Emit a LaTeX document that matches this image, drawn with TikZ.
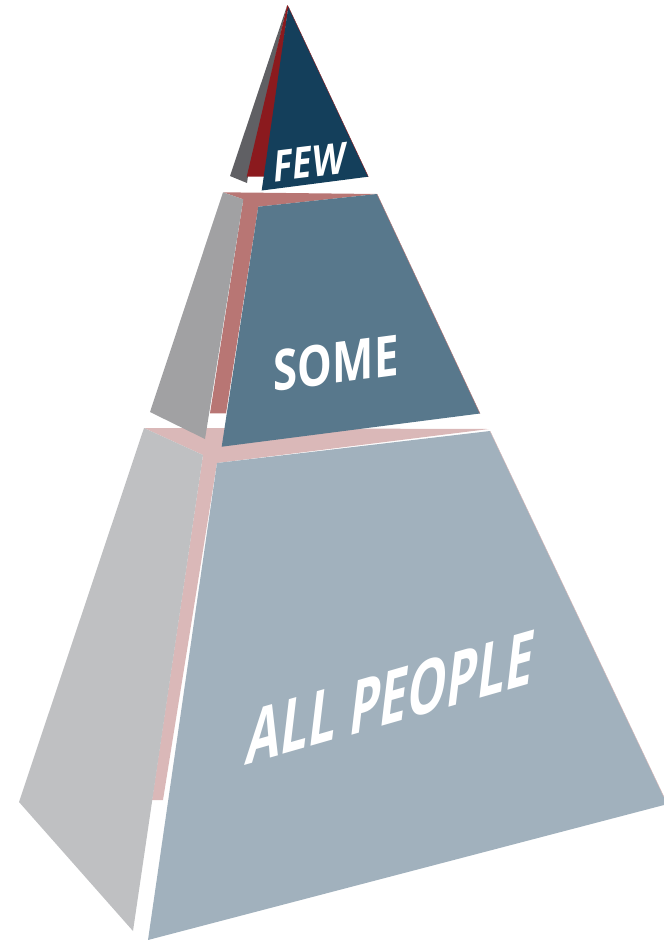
\documentclass[tikz,border=0pt]{standalone}
\usepackage{fontspec}
\newfontfamily\labelfont{Open Sans}
\definecolor{fewblue}{HTML}{143F5B}
\definecolor{fewred}{HTML}{8B1A1E}
\definecolor{fewgray}{HTML}{606064}
\definecolor{someblue}{HTML}{58788C}
\definecolor{somepink}{HTML}{B87674}
\definecolor{somegray}{HTML}{A1A1A3}
\definecolor{allblue}{HTML}{A1B1BD}
\definecolor{allpink}{HTML}{DAB8B8}
\definecolor{allgray}{HTML}{BFC0C2}

\begin{document}
\begin{tikzpicture}[x=1pt,y=-1pt,
    tier/.style={white,inner sep=0pt,transform shape}]
    \useasboundingbox (0,0) rectangle (664,940);
     \fill[allpink]
        (144,428) -- (489,429) -- (217,463) --
        (163,800) -- (152,800) -- (203,455) --cycle ;
     \fill[allgray]
        (144,428) -- (203,455) --
        (133,931) -- (19,802) --cycle ;
     \fill[allblue]
        (217,463) -- (490,431) -- (664,797) --
        (664,805) -- (148,940) --cycle ;
     \draw[allpink,line width=0.4pt]
        (490,431) -- (664,797);
    \fill[somepink]
        (223,192.3) -- (377,194) -- (258.3,206.7) --
        (226,413.3) -- (210,413.3) -- (243.3,199.3) --cycle ;
    \fill[somegray]
        (223,192.3) -- (243.3,199.3) --
        (205,439) -- (150,412) --cycle ;
    \fill[someblue]
        (258.3,206.7) -- (377,194) --
        (480,413.5) -- (221.7,446.7) --cycle ;
    \draw[somepink,line width=0.4pt]
        (377,194) -- (480,413.5);
    \fill[fewgray]
        (287.3,5) -- (230,176) --
        (247,183) -- (248,176) --cycle ;
    \fill[fewred]
        (287.3,5) -- (246.7,176.7) --
        (266,176.7) -- (288.3,6.7) --cycle ;
    \fill[fewblue]
        (288.3,6.7) -- (368.3,176.7) --
        (261.7,190.5) --cycle ;
    \draw[fewred,line width=0.4pt]
        (288.3,6.7) -- (368.3,176.7);
     \node(f)[tier,rotate=7,xslant=0.21,xscale=0.81] at (310,162)
        {\fontsize{43}{43}\labelfont\bfseries FEW};
     \node(s)[tier,rotate=7.6,xslant=0.13,xscale=0.79] at (336,363)
        {\fontsize{56}{56}\labelfont\bfseries SOME};
     \node(a)[tier,rotate=16,xslant=0.42,xscale=0.72] at (391,697)
        {\fontsize{71}{71}\labelfont\bfseries ALL PEOPLE};
 \end{tikzpicture}
\end{document}
